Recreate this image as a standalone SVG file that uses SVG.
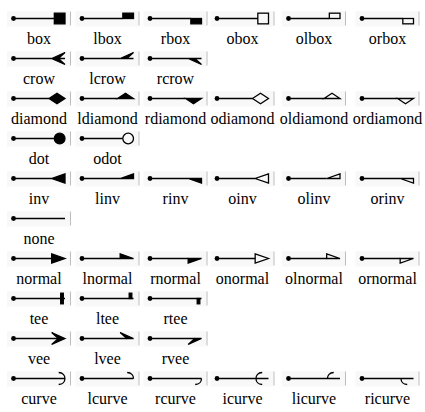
<svg xmlns="http://www.w3.org/2000/svg" xmlns:xlink="http://www.w3.org/1999/xlink" width="425" height="412" viewBox="0 0 425 412">
<style>
.bg{fill:#f8f8f8;stroke:none}
.tail{fill:#000;stroke:none}
.sep{stroke:#bdbdbd;stroke-width:1}
.e{stroke:#000;stroke-width:1.3;fill:none}
.f{fill:#000;stroke:#000;stroke-width:1.3;stroke-linejoin:miter}
.o{fill:none;stroke:#000;stroke-width:1.3;stroke-linejoin:miter}
.lbl{font-family:'Liberation Serif','DejaVu Serif',serif;font-size:16px;fill:#000;text-anchor:middle}
</style>
<defs>
<rect id="box" class="f" x="-10.67" y="-5.33" width="10.67" height="10.67"/>
<rect id="lbox" class="f" x="-10.67" y="-5.33" width="10.67" height="5.33"/>
<rect id="rbox" class="f" x="-10.67" y="0" width="10.67" height="5.33"/>
<rect id="obox" class="o" x="-10.67" y="-5.33" width="10.67" height="10.67"/>
<rect id="olbox" class="o" x="-10.67" y="-5.33" width="10.67" height="5.33"/>
<rect id="orbox" class="o" x="-10.67" y="0" width="10.67" height="5.33"/>
<polygon id="crow" class="f" points="-13.33,0 0,-6 -6.67,0 0,0 -6.67,0 0,6"/>
<polygon id="lcrow" class="f" points="-13.33,0 0,-6 -6.67,0 0,0"/>
<polygon id="rcrow" class="f" points="0,0 -6.67,0 0,6 -13.33,0"/>
<polygon id="diamond" class="f" points="-16,0 -8,-5.33 0,0 -8,5.33"/>
<polygon id="ldiamond" class="f" points="-16,0 -8,-5.33 0,0"/>
<polygon id="rdiamond" class="f" points="-16,0 0,0 -8,5.33"/>
<polygon id="odiamond" class="o" points="-16,0 -8,-5.33 0,0 -8,5.33"/>
<polygon id="oldiamond" class="o" points="-16,0 -8,-5.33 0,0"/>
<polygon id="ordiamond" class="o" points="-16,0 0,0 -8,5.33"/>
<circle id="dot" class="f" cx="-5.33" cy="0" r="5.33"/>
<circle id="odot" class="o" cx="-5.33" cy="0" r="5.33"/>
<polygon id="inv" class="f" points="0,-4.67 -13.33,0 0,4.67"/>
<polygon id="linv" class="f" points="0,-4.67 -13.33,0 0,0"/>
<polygon id="rinv" class="f" points="0,0 -13.33,0 0,4.67"/>
<polygon id="oinv" class="o" points="0,-4.67 -13.33,0 0,4.67"/>
<polygon id="olinv" class="o" points="0,-4.67 -13.33,0 0,0"/>
<polygon id="orinv" class="o" points="0,0 -13.33,0 0,4.67"/>
<polygon id="normal" class="f" points="-13.33,-4.67 0,0 -13.33,4.67"/>
<polygon id="lnormal" class="f" points="-13.33,-4.67 0,0 -13.33,0"/>
<polygon id="rnormal" class="f" points="-13.33,0 0,0 -13.33,4.67"/>
<polygon id="onormal" class="o" points="-13.33,-4.67 0,0 -13.33,4.67"/>
<polygon id="olnormal" class="o" points="-13.33,-4.67 0,0 -13.33,0"/>
<polygon id="ornormal" class="o" points="-13.33,0 0,0 -13.33,4.67"/>
<rect id="tee" class="f" x="-4.3" y="-5.3" width="2.6" height="10.6"/>
<rect id="ltee" class="f" x="-4.3" y="-5.3" width="2.6" height="5.3"/>
<rect id="rtee" class="f" x="-4.3" y="0" width="2.6" height="5.3"/>
<polygon id="vee" class="f" points="0,0 -13.33,-6 -6.67,0 -13.33,6"/>
<polygon id="lvee" class="f" points="0,0 -13.33,-6 -6.67,0"/>
<polygon id="rvee" class="f" points="0,0 -6.67,0 -13.33,6"/>
<path id="curve" class="o" d="M-6.3,-6 C2,-5.7 2,5.7 -6.3,6"/>
<path id="lcurve" class="o" d="M-6.3,-6 C-2.15,-5.85 0,-2.9 0,0"/>
<path id="rcurve" class="o" d="M0,0 C0,2.9 -2.15,5.85 -6.3,6"/>
<path id="icurve" class="o" d="M-6.3,-6 C-14.6,-5.7 -14.6,5.7 -6.3,6"/>
<path id="licurve" class="o" d="M-6.3,-6 C-10.45,-5.85 -12.5,-2.9 -12.5,0"/>
<path id="ricurve" class="o" d="M-12.5,0 C-12.5,2.9 -10.45,5.85 -6.3,6"/>
</defs>
<rect width="425" height="412" fill="#fff"/>
<g id="backgrounds">
<rect class="bg" x="7" y="11" width="63" height="15.5"/><rect class="bg" x="75.5" y="11" width="63" height="15.5"/><rect class="bg" x="143.5" y="11" width="63" height="15.5"/><rect class="bg" x="210.5" y="11" width="63" height="15.5"/><rect class="bg" x="282" y="11" width="63" height="15.5"/><rect class="bg" x="355.5" y="11" width="63" height="15.5"/>
<rect class="bg" x="7" y="51" width="63" height="15.5"/><rect class="bg" x="75.5" y="51" width="63" height="15.5"/><rect class="bg" x="143.5" y="51" width="63" height="15.5"/>
<rect class="bg" x="7" y="91" width="63" height="15.5"/><rect class="bg" x="75.5" y="91" width="63" height="15.5"/><rect class="bg" x="143.5" y="91" width="63" height="15.5"/><rect class="bg" x="210.5" y="91" width="63" height="15.5"/><rect class="bg" x="282" y="91" width="63" height="15.5"/><rect class="bg" x="355.5" y="91" width="63" height="15.5"/>
<rect class="bg" x="7" y="131" width="63" height="15.5"/><rect class="bg" x="75.5" y="131" width="63" height="15.5"/>
<rect class="bg" x="7" y="171" width="63" height="15.5"/><rect class="bg" x="75.5" y="171" width="63" height="15.5"/><rect class="bg" x="143.5" y="171" width="63" height="15.5"/><rect class="bg" x="210.5" y="171" width="63" height="15.5"/><rect class="bg" x="282" y="171" width="63" height="15.5"/><rect class="bg" x="355.5" y="171" width="63" height="15.5"/>
<rect class="bg" x="7" y="211" width="63" height="15.5"/>
<rect class="bg" x="7" y="251" width="63" height="15.5"/><rect class="bg" x="75.5" y="251" width="63" height="15.5"/><rect class="bg" x="143.5" y="251" width="63" height="15.5"/><rect class="bg" x="210.5" y="251" width="63" height="15.5"/><rect class="bg" x="282" y="251" width="63" height="15.5"/><rect class="bg" x="355.5" y="251" width="63" height="15.5"/>
<rect class="bg" x="7" y="291" width="63" height="15.5"/><rect class="bg" x="75.5" y="291" width="63" height="15.5"/><rect class="bg" x="143.5" y="291" width="63" height="15.5"/>
<rect class="bg" x="7" y="331" width="63" height="15.5"/><rect class="bg" x="75.5" y="331" width="63" height="15.5"/><rect class="bg" x="143.5" y="331" width="63" height="15.5"/>
<rect class="bg" x="7" y="371" width="63" height="15.5"/><rect class="bg" x="75.5" y="371" width="63" height="15.5"/><rect class="bg" x="143.5" y="371" width="63" height="15.5"/><rect class="bg" x="210.5" y="371" width="63" height="15.5"/><rect class="bg" x="282" y="371" width="63" height="15.5"/><rect class="bg" x="355.5" y="371" width="63" height="15.5"/>
</g>
<g id="connectors">
<line class="e" x1="13.5" y1="18.5" x2="54.33" y2="18.5"/><line class="e" x1="82" y1="18.5" x2="122.83" y2="18.5"/><line class="e" x1="150" y1="18.5" x2="190.83" y2="18.5"/><line class="e" x1="217" y1="18.5" x2="257.83" y2="18.5"/><line class="e" x1="288.5" y1="18.5" x2="329.33" y2="18.5"/><line class="e" x1="362" y1="18.5" x2="402.83" y2="18.5"/>
<line class="e" x1="13.5" y1="58.5" x2="51.67" y2="58.5"/><line class="e" x1="82" y1="58.5" x2="120.17" y2="58.5"/><line class="e" x1="150" y1="58.5" x2="188.17" y2="58.5"/>
<line class="e" x1="13.5" y1="98.5" x2="49" y2="98.5"/><line class="e" x1="82" y1="98.5" x2="117.5" y2="98.5"/><line class="e" x1="150" y1="98.5" x2="185.5" y2="98.5"/><line class="e" x1="217" y1="98.5" x2="252.5" y2="98.5"/><line class="e" x1="288.5" y1="98.5" x2="324" y2="98.5"/><line class="e" x1="362" y1="98.5" x2="397.5" y2="98.5"/>
<line class="e" x1="13.5" y1="138.5" x2="54.33" y2="138.5"/><line class="e" x1="82" y1="138.5" x2="122.83" y2="138.5"/>
<line class="e" x1="13.5" y1="178.5" x2="51.67" y2="178.5"/><line class="e" x1="82" y1="178.5" x2="120.17" y2="178.5"/><line class="e" x1="150" y1="178.5" x2="188.17" y2="178.5"/><line class="e" x1="217" y1="178.5" x2="255.17" y2="178.5"/><line class="e" x1="288.5" y1="178.5" x2="326.67" y2="178.5"/><line class="e" x1="362" y1="178.5" x2="400.17" y2="178.5"/>
<line class="e" x1="13.5" y1="218.5" x2="65" y2="218.5"/>
<line class="e" x1="13.5" y1="258.5" x2="51.67" y2="258.5"/><line class="e" x1="82" y1="258.5" x2="120.17" y2="258.5"/><line class="e" x1="150" y1="258.5" x2="188.17" y2="258.5"/><line class="e" x1="217" y1="258.5" x2="255.17" y2="258.5"/><line class="e" x1="288.5" y1="258.5" x2="326.67" y2="258.5"/><line class="e" x1="362" y1="258.5" x2="400.17" y2="258.5"/>
<line class="e" x1="13.5" y1="298.5" x2="65" y2="298.5"/><line class="e" x1="82" y1="298.5" x2="133.5" y2="298.5"/><line class="e" x1="150" y1="298.5" x2="201.5" y2="298.5"/>
<line class="e" x1="13.5" y1="338.5" x2="58.33" y2="338.5"/><line class="e" x1="82" y1="338.5" x2="126.83" y2="338.5"/><line class="e" x1="150" y1="338.5" x2="194.83" y2="338.5"/>
<line class="e" x1="13.5" y1="378.5" x2="65" y2="378.5"/><line class="e" x1="82" y1="378.5" x2="133.5" y2="378.5"/><line class="e" x1="150" y1="378.5" x2="201.5" y2="378.5"/><line class="e" x1="217" y1="378.5" x2="268.5" y2="378.5"/><line class="e" x1="288.5" y1="378.5" x2="340" y2="378.5"/><line class="e" x1="362" y1="378.5" x2="413.5" y2="378.5"/>
</g>
<g font-family="Liberation Serif, DejaVu Serif, serif">
<g id="n-box"><circle class="tail" cx="13.5" cy="18.5" r="2.4"/><use xlink:href="#box" x="65" y="18.5"/><line class="sep" x1="70.5" y1="11.5" x2="70.5" y2="25.5"/><text class="lbl" x="39" y="44">box</text></g>
<g id="n-lbox"><circle class="tail" cx="82" cy="18.5" r="2.4"/><use xlink:href="#lbox" x="133.5" y="18.5"/><line class="sep" x1="139" y1="11.5" x2="139" y2="25.5"/><text class="lbl" x="107.5" y="44">lbox</text></g>
<g id="n-rbox"><circle class="tail" cx="150" cy="18.5" r="2.4"/><use xlink:href="#rbox" x="201.5" y="18.5"/><line class="sep" x1="207" y1="11.5" x2="207" y2="25.5"/><text class="lbl" x="175.5" y="44">rbox</text></g>
<g id="n-obox"><circle class="tail" cx="217" cy="18.5" r="2.4"/><use xlink:href="#obox" x="268.5" y="18.5"/><line class="sep" x1="274" y1="11.5" x2="274" y2="25.5"/><text class="lbl" x="242.5" y="44">obox</text></g>
<g id="n-olbox"><circle class="tail" cx="288.5" cy="18.5" r="2.4"/><use xlink:href="#olbox" x="340" y="18.5"/><line class="sep" x1="345.5" y1="11.5" x2="345.5" y2="25.5"/><text class="lbl" x="314" y="44">olbox</text></g>
<g id="n-orbox"><circle class="tail" cx="362" cy="18.5" r="2.4"/><use xlink:href="#orbox" x="413.5" y="18.5"/><line class="sep" x1="419" y1="11.5" x2="419" y2="25.5"/><text class="lbl" x="387.5" y="44">orbox</text></g>
<g id="n-crow"><circle class="tail" cx="13.5" cy="58.5" r="2.4"/><use xlink:href="#crow" x="65" y="58.5"/><line class="sep" x1="70.5" y1="51.5" x2="70.5" y2="65.5"/><text class="lbl" x="39" y="84">crow</text></g>
<g id="n-lcrow"><circle class="tail" cx="82" cy="58.5" r="2.4"/><use xlink:href="#lcrow" x="133.5" y="58.5"/><line class="sep" x1="139" y1="51.5" x2="139" y2="65.5"/><text class="lbl" x="107.5" y="84">lcrow</text></g>
<g id="n-rcrow"><circle class="tail" cx="150" cy="58.5" r="2.4"/><use xlink:href="#rcrow" x="201.5" y="58.5"/><line class="sep" x1="207" y1="51.5" x2="207" y2="65.5"/><text class="lbl" x="175.5" y="84">rcrow</text></g>
<g id="n-diamond"><circle class="tail" cx="13.5" cy="98.5" r="2.4"/><use xlink:href="#diamond" x="65" y="98.5"/><line class="sep" x1="70.5" y1="91.5" x2="70.5" y2="105.5"/><text class="lbl" x="39" y="124">diamond</text></g>
<g id="n-ldiamond"><circle class="tail" cx="82" cy="98.5" r="2.4"/><use xlink:href="#ldiamond" x="133.5" y="98.5"/><line class="sep" x1="139" y1="91.5" x2="139" y2="105.5"/><text class="lbl" x="107.5" y="124">ldiamond</text></g>
<g id="n-rdiamond"><circle class="tail" cx="150" cy="98.5" r="2.4"/><use xlink:href="#rdiamond" x="201.5" y="98.5"/><line class="sep" x1="207" y1="91.5" x2="207" y2="105.5"/><text class="lbl" x="175.5" y="124">rdiamond</text></g>
<g id="n-odiamond"><circle class="tail" cx="217" cy="98.5" r="2.4"/><use xlink:href="#odiamond" x="268.5" y="98.5"/><line class="sep" x1="274" y1="91.5" x2="274" y2="105.5"/><text class="lbl" x="242.5" y="124">odiamond</text></g>
<g id="n-oldiamond"><circle class="tail" cx="288.5" cy="98.5" r="2.4"/><use xlink:href="#oldiamond" x="340" y="98.5"/><line class="sep" x1="345.5" y1="91.5" x2="345.5" y2="105.5"/><text class="lbl" x="314" y="124">oldiamond</text></g>
<g id="n-ordiamond"><circle class="tail" cx="362" cy="98.5" r="2.4"/><use xlink:href="#ordiamond" x="413.5" y="98.5"/><line class="sep" x1="419" y1="91.5" x2="419" y2="105.5"/><text class="lbl" x="387.5" y="124">ordiamond</text></g>
<g id="n-dot"><circle class="tail" cx="13.5" cy="138.5" r="2.4"/><use xlink:href="#dot" x="65" y="138.5"/><line class="sep" x1="70.5" y1="131.5" x2="70.5" y2="145.5"/><text class="lbl" x="39" y="164">dot</text></g>
<g id="n-odot"><circle class="tail" cx="82" cy="138.5" r="2.4"/><use xlink:href="#odot" x="133.5" y="138.5"/><line class="sep" x1="139" y1="131.5" x2="139" y2="145.5"/><text class="lbl" x="107.5" y="164">odot</text></g>
<g id="n-inv"><circle class="tail" cx="13.5" cy="178.5" r="2.4"/><use xlink:href="#inv" x="65" y="178.5"/><line class="sep" x1="70.5" y1="171.5" x2="70.5" y2="185.5"/><text class="lbl" x="39" y="204">inv</text></g>
<g id="n-linv"><circle class="tail" cx="82" cy="178.5" r="2.4"/><use xlink:href="#linv" x="133.5" y="178.5"/><line class="sep" x1="139" y1="171.5" x2="139" y2="185.5"/><text class="lbl" x="107.5" y="204">linv</text></g>
<g id="n-rinv"><circle class="tail" cx="150" cy="178.5" r="2.4"/><use xlink:href="#rinv" x="201.5" y="178.5"/><line class="sep" x1="207" y1="171.5" x2="207" y2="185.5"/><text class="lbl" x="175.5" y="204">rinv</text></g>
<g id="n-oinv"><circle class="tail" cx="217" cy="178.5" r="2.4"/><use xlink:href="#oinv" x="268.5" y="178.5"/><line class="sep" x1="274" y1="171.5" x2="274" y2="185.5"/><text class="lbl" x="242.5" y="204">oinv</text></g>
<g id="n-olinv"><circle class="tail" cx="288.5" cy="178.5" r="2.4"/><use xlink:href="#olinv" x="340" y="178.5"/><line class="sep" x1="345.5" y1="171.5" x2="345.5" y2="185.5"/><text class="lbl" x="314" y="204">olinv</text></g>
<g id="n-orinv"><circle class="tail" cx="362" cy="178.5" r="2.4"/><use xlink:href="#orinv" x="413.5" y="178.5"/><line class="sep" x1="419" y1="171.5" x2="419" y2="185.5"/><text class="lbl" x="387.5" y="204">orinv</text></g>
<g id="n-none"><circle class="tail" cx="13.5" cy="218.5" r="2.4"/><line class="sep" x1="70.5" y1="211.5" x2="70.5" y2="225.5"/><text class="lbl" x="39" y="244">none</text></g>
<g id="n-normal"><circle class="tail" cx="13.5" cy="258.5" r="2.4"/><use xlink:href="#normal" x="65" y="258.5"/><line class="sep" x1="70.5" y1="251.5" x2="70.5" y2="265.5"/><text class="lbl" x="39" y="284">normal</text></g>
<g id="n-lnormal"><circle class="tail" cx="82" cy="258.5" r="2.4"/><use xlink:href="#lnormal" x="133.5" y="258.5"/><line class="sep" x1="139" y1="251.5" x2="139" y2="265.5"/><text class="lbl" x="107.5" y="284">lnormal</text></g>
<g id="n-rnormal"><circle class="tail" cx="150" cy="258.5" r="2.4"/><use xlink:href="#rnormal" x="201.5" y="258.5"/><line class="sep" x1="207" y1="251.5" x2="207" y2="265.5"/><text class="lbl" x="175.5" y="284">rnormal</text></g>
<g id="n-onormal"><circle class="tail" cx="217" cy="258.5" r="2.4"/><use xlink:href="#onormal" x="268.5" y="258.5"/><line class="sep" x1="274" y1="251.5" x2="274" y2="265.5"/><text class="lbl" x="242.5" y="284">onormal</text></g>
<g id="n-olnormal"><circle class="tail" cx="288.5" cy="258.5" r="2.4"/><use xlink:href="#olnormal" x="340" y="258.5"/><line class="sep" x1="345.5" y1="251.5" x2="345.5" y2="265.5"/><text class="lbl" x="314" y="284">olnormal</text></g>
<g id="n-ornormal"><circle class="tail" cx="362" cy="258.5" r="2.4"/><use xlink:href="#ornormal" x="413.5" y="258.5"/><line class="sep" x1="419" y1="251.5" x2="419" y2="265.5"/><text class="lbl" x="387.5" y="284">ornormal</text></g>
<g id="n-tee"><circle class="tail" cx="13.5" cy="298.5" r="2.4"/><use xlink:href="#tee" x="65" y="298.5"/><line class="sep" x1="70.5" y1="291.5" x2="70.5" y2="305.5"/><text class="lbl" x="39" y="324">tee</text></g>
<g id="n-ltee"><circle class="tail" cx="82" cy="298.5" r="2.4"/><use xlink:href="#ltee" x="133.5" y="298.5"/><line class="sep" x1="139" y1="291.5" x2="139" y2="305.5"/><text class="lbl" x="107.5" y="324">ltee</text></g>
<g id="n-rtee"><circle class="tail" cx="150" cy="298.5" r="2.4"/><use xlink:href="#rtee" x="201.5" y="298.5"/><line class="sep" x1="207" y1="291.5" x2="207" y2="305.5"/><text class="lbl" x="175.5" y="324">rtee</text></g>
<g id="n-vee"><circle class="tail" cx="13.5" cy="338.5" r="2.4"/><use xlink:href="#vee" x="65" y="338.5"/><line class="sep" x1="70.5" y1="331.5" x2="70.5" y2="345.5"/><text class="lbl" x="39" y="364">vee</text></g>
<g id="n-lvee"><circle class="tail" cx="82" cy="338.5" r="2.4"/><use xlink:href="#lvee" x="133.5" y="338.5"/><line class="sep" x1="139" y1="331.5" x2="139" y2="345.5"/><text class="lbl" x="107.5" y="364">lvee</text></g>
<g id="n-rvee"><circle class="tail" cx="150" cy="338.5" r="2.4"/><use xlink:href="#rvee" x="201.5" y="338.5"/><line class="sep" x1="207" y1="331.5" x2="207" y2="345.5"/><text class="lbl" x="175.5" y="364">rvee</text></g>
<g id="n-curve"><circle class="tail" cx="13.5" cy="378.5" r="2.4"/><use xlink:href="#curve" x="65" y="378.5"/><line class="sep" x1="70.5" y1="371.5" x2="70.5" y2="385.5"/><text class="lbl" x="39" y="404">curve</text></g>
<g id="n-lcurve"><circle class="tail" cx="82" cy="378.5" r="2.4"/><use xlink:href="#lcurve" x="133.5" y="378.5"/><line class="sep" x1="139" y1="371.5" x2="139" y2="385.5"/><text class="lbl" x="107.5" y="404">lcurve</text></g>
<g id="n-rcurve"><circle class="tail" cx="150" cy="378.5" r="2.4"/><use xlink:href="#rcurve" x="201.5" y="378.5"/><line class="sep" x1="207" y1="371.5" x2="207" y2="385.5"/><text class="lbl" x="175.5" y="404">rcurve</text></g>
<g id="n-icurve"><circle class="tail" cx="217" cy="378.5" r="2.4"/><use xlink:href="#icurve" x="268.5" y="378.5"/><line class="sep" x1="274" y1="371.5" x2="274" y2="385.5"/><text class="lbl" x="242.5" y="404">icurve</text></g>
<g id="n-licurve"><circle class="tail" cx="288.5" cy="378.5" r="2.4"/><use xlink:href="#licurve" x="340" y="378.5"/><line class="sep" x1="345.5" y1="371.5" x2="345.5" y2="385.5"/><text class="lbl" x="314" y="404">licurve</text></g>
<g id="n-ricurve"><circle class="tail" cx="362" cy="378.5" r="2.4"/><use xlink:href="#ricurve" x="413.5" y="378.5"/><line class="sep" x1="419" y1="371.5" x2="419" y2="385.5"/><text class="lbl" x="387.5" y="404">ricurve</text></g>
</g>
</svg>
